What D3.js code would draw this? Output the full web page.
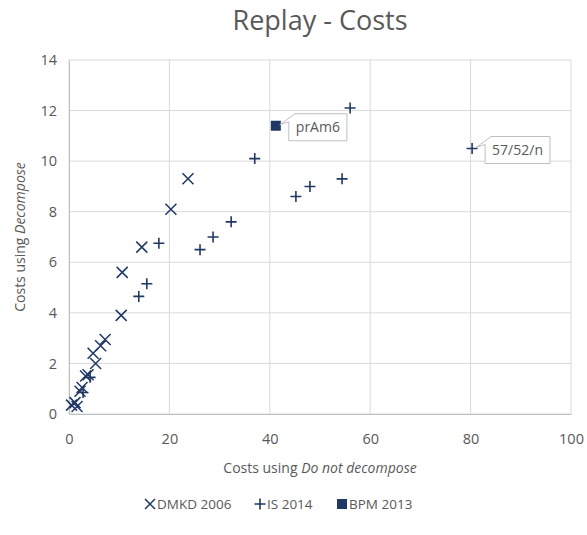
<!DOCTYPE html>
<html>
<head>
<meta charset="utf-8">
<script src="https://cdn.jsdelivr.net/npm/d3@7"></script>
<style>
  html, body { margin: 0; padding: 0; background: #fff; }
  svg { display: block; font-family: "Open Sans", "Noto Sans", sans-serif; }
</style>
</head>
<body>
<svg id="chart" width="587" height="535"></svg>
<script>
// Replay costs: decomposed vs. non-decomposed
const dmkdX = [0.5, 1.2, 1.6, 2.2, 2.6, 3.3, 3.8, 4.8, 5.3, 6.3, 7.2, 10.4, 10.6, 14.5, 20.3, 23.7];
const dmkdY = [0.35, 0.45, 0.3, 0.9, 1.05, 1.5, 1.55, 2.4, 2.0, 2.7, 2.95, 3.9, 5.6, 6.6, 8.1, 9.3];

const isX = [2.8, 4.2, 13.9, 15.5, 17.9, 26.1, 28.7, 32.3, 37.0, 45.2, 48.0, 54.4, 56.0, 80.3];
const isY = [0.85, 1.45, 4.65, 5.15, 6.75, 6.5, 7.0, 7.6, 10.1, 8.6, 9.0, 9.3, 12.1, 10.5];

const bpmX = [41.2];
const bpmY = [11.4];

const xTicks = [0, 20, 40, 60, 80, 100];
const yTicks = [0, 2, 4, 6, 8, 10, 12, 14];

const seriesNames = ["DMKD 2006", "IS 2014", "BPM 2013"];
const callouts = [
  { text: "prAm6", x: 41.2, y: 11.4 },
  { text: "57/52/n", x: 80.3, y: 10.5 }
];

const navy = "#203864";
const textGrey = "#595959";
const gridGrey = "#d9d9d9";

const svg = d3.select("#chart");
const x = d3.scaleLinear().domain([0, 100]).range([69, 571]);
const y = d3.scaleLinear().domain([0, 14]).range([414, 60]);

// gridlines
svg.append("g").selectAll("line").data(yTicks).join("line")
  .attr("x1", x(0)).attr("x2", x(100))
  .attr("y1", d => y(d)).attr("y2", d => y(d))
  .attr("stroke", gridGrey).attr("stroke-width", 1);
svg.append("g").selectAll("line").data(xTicks).join("line")
  .attr("y1", y(0)).attr("y2", y(14))
  .attr("x1", d => x(d)).attr("x2", d => x(d))
  .attr("stroke", gridGrey).attr("stroke-width", 1);

// axes
const xAxis = svg.append("g").attr("transform", `translate(0,${y(0)})`)
  .call(d3.axisBottom(x).tickValues(xTicks).tickSize(0).tickPadding(20));
const yAxis = svg.append("g").attr("transform", `translate(${x(0)},0)`)
  .call(d3.axisLeft(y).tickValues(yTicks).tickSize(0).tickPadding(12));
[xAxis, yAxis].forEach(a => {
  a.select(".domain").attr("stroke", "#bfbfbf");
  a.selectAll("text").attr("fill", textGrey).attr("font-size", 14.5)
    .attr("font-family", "'Open Sans', sans-serif");
});

// markers
function cross(g, s) {
  g.append("path").attr("d", `M${-s},${-s}L${s},${s}M${-s},${s}L${s},${-s}`)
    .attr("stroke", navy).attr("stroke-width", 1.5).attr("fill", "none");
}
function plus(g, s) {
  g.append("path").attr("d", `M${-s},0L${s},0M0,${-s}L0,${s}`)
    .attr("stroke", navy).attr("stroke-width", 1.6).attr("fill", "none");
}

const plot = svg.append("g");
plot.selectAll("g.dmkd").data(d3.range(dmkdX.length)).join("g")
  .attr("class", "dmkd")
  .attr("transform", i => `translate(${x(dmkdX[i])},${y(dmkdY[i])})`)
  .each(function() { cross(d3.select(this), 5.5); });
plot.selectAll("g.is").data(d3.range(isX.length)).join("g")
  .attr("class", "is")
  .attr("transform", i => `translate(${x(isX[i])},${y(isY[i])})`)
  .each(function() { plus(d3.select(this), 5.5); });
plot.selectAll("rect.bpm").data(d3.range(bpmX.length)).join("rect")
  .attr("class", "bpm")
  .attr("x", i => x(bpmX[i]) - 5).attr("y", i => y(bpmY[i]) - 5)
  .attr("width", 10).attr("height", 10).attr("fill", navy);

// callout labels
callouts.forEach(c => {
  const px = x(c.x), py = y(c.y);
  const g = svg.append("g");
  const t = g.append("text").text(c.text)
    .attr("font-size", 14).attr("fill", textGrey);
  const w = t.node().getComputedTextLength() + 14;
  const h = 27;
  const bx = px + 13, by = py - 12;
  const d = `M${bx},${by + 8}L${bx},${by + h}L${bx + w},${by + h}L${bx + w},${by}` +
            `L${bx + 6},${by}L${px + 4},${py - 1}L${bx},${by + 8}Z`;
  g.insert("path", "text").attr("d", d).attr("fill", "#fff")
    .attr("stroke", "#bfbfbf").attr("stroke-width", 1);
  t.attr("x", bx + 7).attr("y", by + h / 2 + 5);
});

// title
svg.append("text").attr("x", 320).attr("y", 30).attr("text-anchor", "middle")
  .attr("font-size", 27).attr("fill", textGrey).text("Replay - Costs");

// axis titles
const xt = svg.append("text").attr("x", 320).attr("y", 473).attr("text-anchor", "middle")
  .attr("font-size", 14).attr("fill", textGrey);
xt.append("tspan").text("Costs using ");
xt.append("tspan").attr("font-style", "italic").text("Do not decompose");

const yt = svg.append("text").attr("transform", `translate(25,${y(7)}) rotate(-90)`)
  .attr("text-anchor", "middle").attr("font-size", 14).attr("fill", textGrey);
yt.append("tspan").text("Costs using ");
yt.append("tspan").attr("font-style", "italic").text("Decompose");

// legend
const legend = svg.append("g").attr("transform", "translate(0,509)");
const legendX = [150, 260, 342];
seriesNames.forEach((name, i) => {
  const g = legend.append("g").attr("transform", `translate(${legendX[i]},0)`);
  const m = g.append("g").attr("transform", "translate(0,-5)");
  if (i === 0) cross(m, 5);
  else if (i === 1) plus(m, 5.5);
  else m.append("rect").attr("x", -5).attr("y", -5).attr("width", 10).attr("height", 10).attr("fill", navy);
  g.append("text").attr("x", 7).attr("y", 0).attr("font-size", 13.5)
    .attr("fill", textGrey).text(name);
});
</script>
</body>
</html>
